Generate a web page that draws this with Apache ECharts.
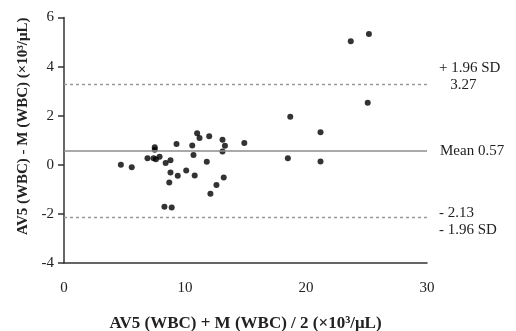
<!DOCTYPE html>
<html>
<head>
<meta charset="utf-8">
<script src="https://cdn.jsdelivr.net/npm/echarts@6/dist/echarts.min.js"></script>
<style>
  html, body { margin: 0; padding: 0; background: #fff; }
  #chart { width: 516px; height: 331px; }
</style>
</head>
<body>
<div id="chart"></div>
<script>
// mean of the two methods (x) and their difference (y), x10^3/uL
const meanValues = [
  4.7, 5.6, 6.9, 7.5, 7.5, 7.4, 7.6, 7.9, 8.4, 8.8,
  9.3, 8.8, 8.7, 9.4, 10.1, 10.6, 11.0, 11.2, 10.7, 10.8,
  11.8, 12.0, 8.3, 8.9, 13.1, 13.3, 13.1, 14.9, 13.2, 12.6,
  12.1, 18.7, 21.2, 25.1, 18.5, 21.2, 23.7, 25.2,
];
const diffValues = [
  0.0, -0.1, 0.27, 0.71, 0.61, 0.27, 0.23, 0.33, 0.07, 0.19,
  0.85, -0.31, -0.72, -0.45, -0.23, 0.79, 1.29, 1.09, 0.40, -0.44,
  0.12, 1.16, -1.71, -1.74, 1.02, 0.78, 0.54, 0.89, -0.52, -0.82,
  -1.18, 1.96, 1.33, 2.53, 0.27, 0.13, 5.03, 5.33,
];
const biasMean = 0.57;
const upperLimit = 3.27;
const lowerLimit = -2.13;
const xTicks = [0, 30, 10];   // min, max, interval
const yTicks = [-4, 6, 2];

const serif = '"Liberation Serif", "DejaVu Serif", serif';

const chart = echarts.init(document.getElementById('chart'));

const points = meanValues.map((x, i) => [x, diffValues[i]]);

function refLine(y, type, color, labelText, offsetY, dist) {
  return [
    {
      coord: [xTicks[0], y],
      lineStyle: { color, type, width: type === 'solid' ? 1.5 : 1.3 },
      label: {
        show: true,
        position: 'end',
        distance: dist,
        formatter: labelText,
        color: '#222',
        fontFamily: serif,
        fontSize: 15,
        lineHeight: 17,
        offset: [0, offsetY],
      },
    },
    { coord: [xTicks[1], y] },
  ];
}

chart.setOption({
  animation: false,
  grid: { left: 64, right: 89, top: 17.5, bottom: 68, outerBoundsMode: 'none', containLabel: false },
  xAxis: {
    type: 'value',
    min: xTicks[0],
    max: xTicks[1],
    interval: xTicks[2],
    splitLine: { show: false },
    axisLine: { onZero: false, lineStyle: { color: '#333', width: 1.5 } },
    axisTick: { show: false },
    axisLabel: { color: '#222', fontFamily: serif, fontSize: 15, margin: 18 },
    name: 'AV5 (WBC) + M (WBC) / 2 (×10³/μL)',
    nameLocation: 'middle',
    nameGap: 52,
    nameTextStyle: { color: '#222', fontFamily: serif, fontSize: 17, fontWeight: 'bold' },
  },
  yAxis: {
    type: 'value',
    min: yTicks[0],
    max: yTicks[1],
    interval: yTicks[2],
    splitLine: { show: false },
    axisLine: { show: true, onZero: false, lineStyle: { color: '#333', width: 1.5 } },
    axisTick: { show: true, length: 6, lineStyle: { color: '#333', width: 1.5 } },
    axisLabel: { color: '#222', fontFamily: serif, fontSize: 15, margin: 10 },
    name: 'AV5 (WBC) - M (WBC) (×10³/μL)',
    nameLocation: 'middle',
    nameGap: 31,
    nameTextStyle: {
      color: '#222', fontFamily: serif, fontSize: 15, fontWeight: 'bold',
      padding: [0, 0, 0, 28],
    },
  },
  series: [
    {
      type: 'scatter',
      data: points,
      symbolSize: 6,
      itemStyle: { color: '#000' },
      markLine: {
        silent: true,
        symbol: 'none',
        animation: false,
        data: [
          refLine(upperLimit, [3, 3], '#999', '+ 1.96 SD\n   3.27', -8, 12),
          refLine(biasMean, 'solid', '#8c8c8c', 'Mean 0.57', 0, 13),
          refLine(lowerLimit, [3, 3], '#999', '- 2.13\n- 1.96 SD', 4, 12),
        ],
      },
    },
  ],
});
</script>
</body>
</html>
